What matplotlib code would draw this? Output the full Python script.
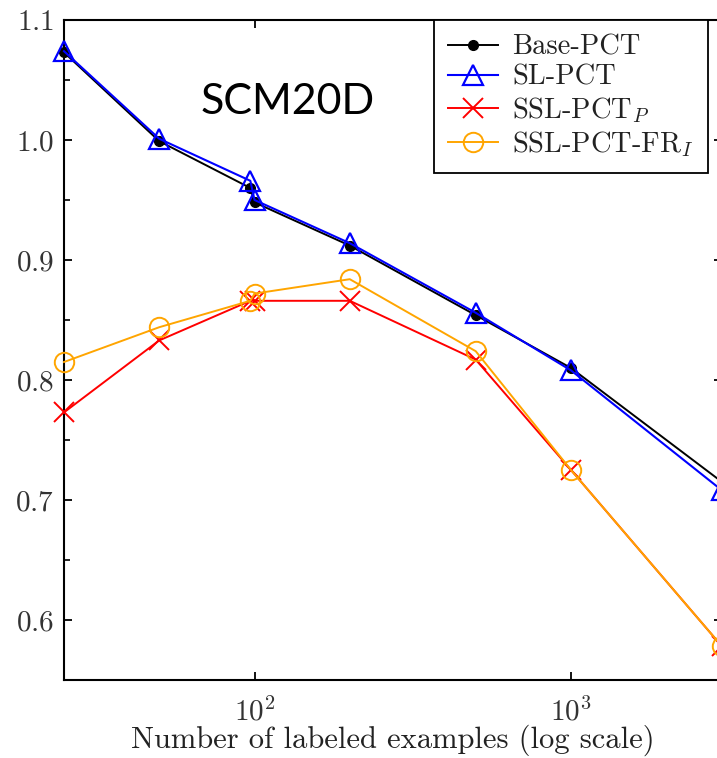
import matplotlib
matplotlib.use("Agg")
import matplotlib.pyplot as plt
from matplotlib.ticker import FixedLocator, NullLocator, MultipleLocator

plt.rcParams["font.family"] = "serif"
plt.rcParams["font.serif"] = ["cmr10"]
plt.rcParams["mathtext.fontset"] = "cm"
plt.rcParams["axes.formatter.use_mathtext"] = True

# labeled-example counts and per-method error values
n_labeled = [25, 50, 97, 100, 200, 500, 1000, 3000]
base_pct = [1.073, 0.999, 0.960, 0.948, 0.912, 0.854, 0.810, 0.715]
sl_pct = [1.074, 1.001, 0.966, 0.950, 0.914, 0.856, 0.808, 0.708]
ssl_pct_p = [0.773, 0.833, 0.866, 0.866, 0.866, 0.817, 0.725, 0.578]
ssl_pct_fr_i = [0.815, 0.844, 0.866, 0.872, 0.884, 0.824, 0.725, 0.578]

labels = ["Base-PCT", "SL-PCT", r"SSL-PCT$_P$", r"SSL-PCT-FR$_I$"]

W, H = 717, 758
fig = plt.figure(figsize=(W / 100, H / 100), dpi=100)
left, right, top, bottom = 64, 722, 20, 680
ax = fig.add_axes([left / W, 1 - bottom / H, (right - left) / W, (bottom - top) / H])

ax.plot(n_labeled, base_pct, color="black", lw=1.4, marker="o", ms=7,
        label=labels[0], zorder=3, clip_on=False)
ax.plot(n_labeled, sl_pct, color="blue", lw=1.5, marker="^", ms=14,
        mfc="none", mew=1.6, label=labels[1], zorder=4, clip_on=False)
ax.plot(n_labeled, ssl_pct_p, color="red", lw=1.4, marker="x", ms=14,
        mew=1.4, label=labels[2], zorder=3, clip_on=False)
ax.plot(n_labeled, ssl_pct_fr_i, color="orange", lw=1.4, marker="o", ms=14,
        mfc="none", mew=1.4, label=labels[3], zorder=3, clip_on=False)

ax.set_xscale("log")
ax.set_xlim(25, 3000)
ax.set_ylim(0.55, 1.1)
ax.xaxis.set_major_locator(FixedLocator([100, 1000]))
ax.xaxis.set_minor_locator(NullLocator())
ax.yaxis.set_major_locator(MultipleLocator(0.1))
ax.yaxis.set_minor_locator(FixedLocator([0.65, 0.75, 0.85, 0.95, 1.05]))

for s in ax.spines.values():
    s.set_linewidth(1.5)

ax.tick_params(axis="both", which="major", direction="in", length=6, width=1.3,
               labelsize=21, labelcolor="#333333", pad=7)
ax.tick_params(axis="x", which="major", pad=12)
ax.tick_params(axis="y", which="major", right=True)
ax.tick_params(axis="x", which="major", top=True)
ax.tick_params(axis="y", which="minor", direction="in", length=4, width=1.2)

ax.set_xlabel("Number of labeled examples (log scale)", fontsize=22,
              color="#222222", labelpad=-1)

ax.text(0.34, 0.875, "SCM20D", transform=ax.transAxes, ha="center", va="center",
        fontsize=31, family="Lato")

leg = ax.legend(loc="upper left", bbox_to_anchor=((434 - left) / (right - left), 1.0),
                borderaxespad=0, fontsize=20.5, handlelength=1.75, handletextpad=0.5,
                labelspacing=0.14, fancybox=False, framealpha=1, borderpad=0.5)
leg.get_frame().set_edgecolor("black")
leg.get_frame().set_linewidth(1.3)
for t in leg.get_texts():
    t.set_color("#222222")

fig.savefig("out.png", dpi=100)
